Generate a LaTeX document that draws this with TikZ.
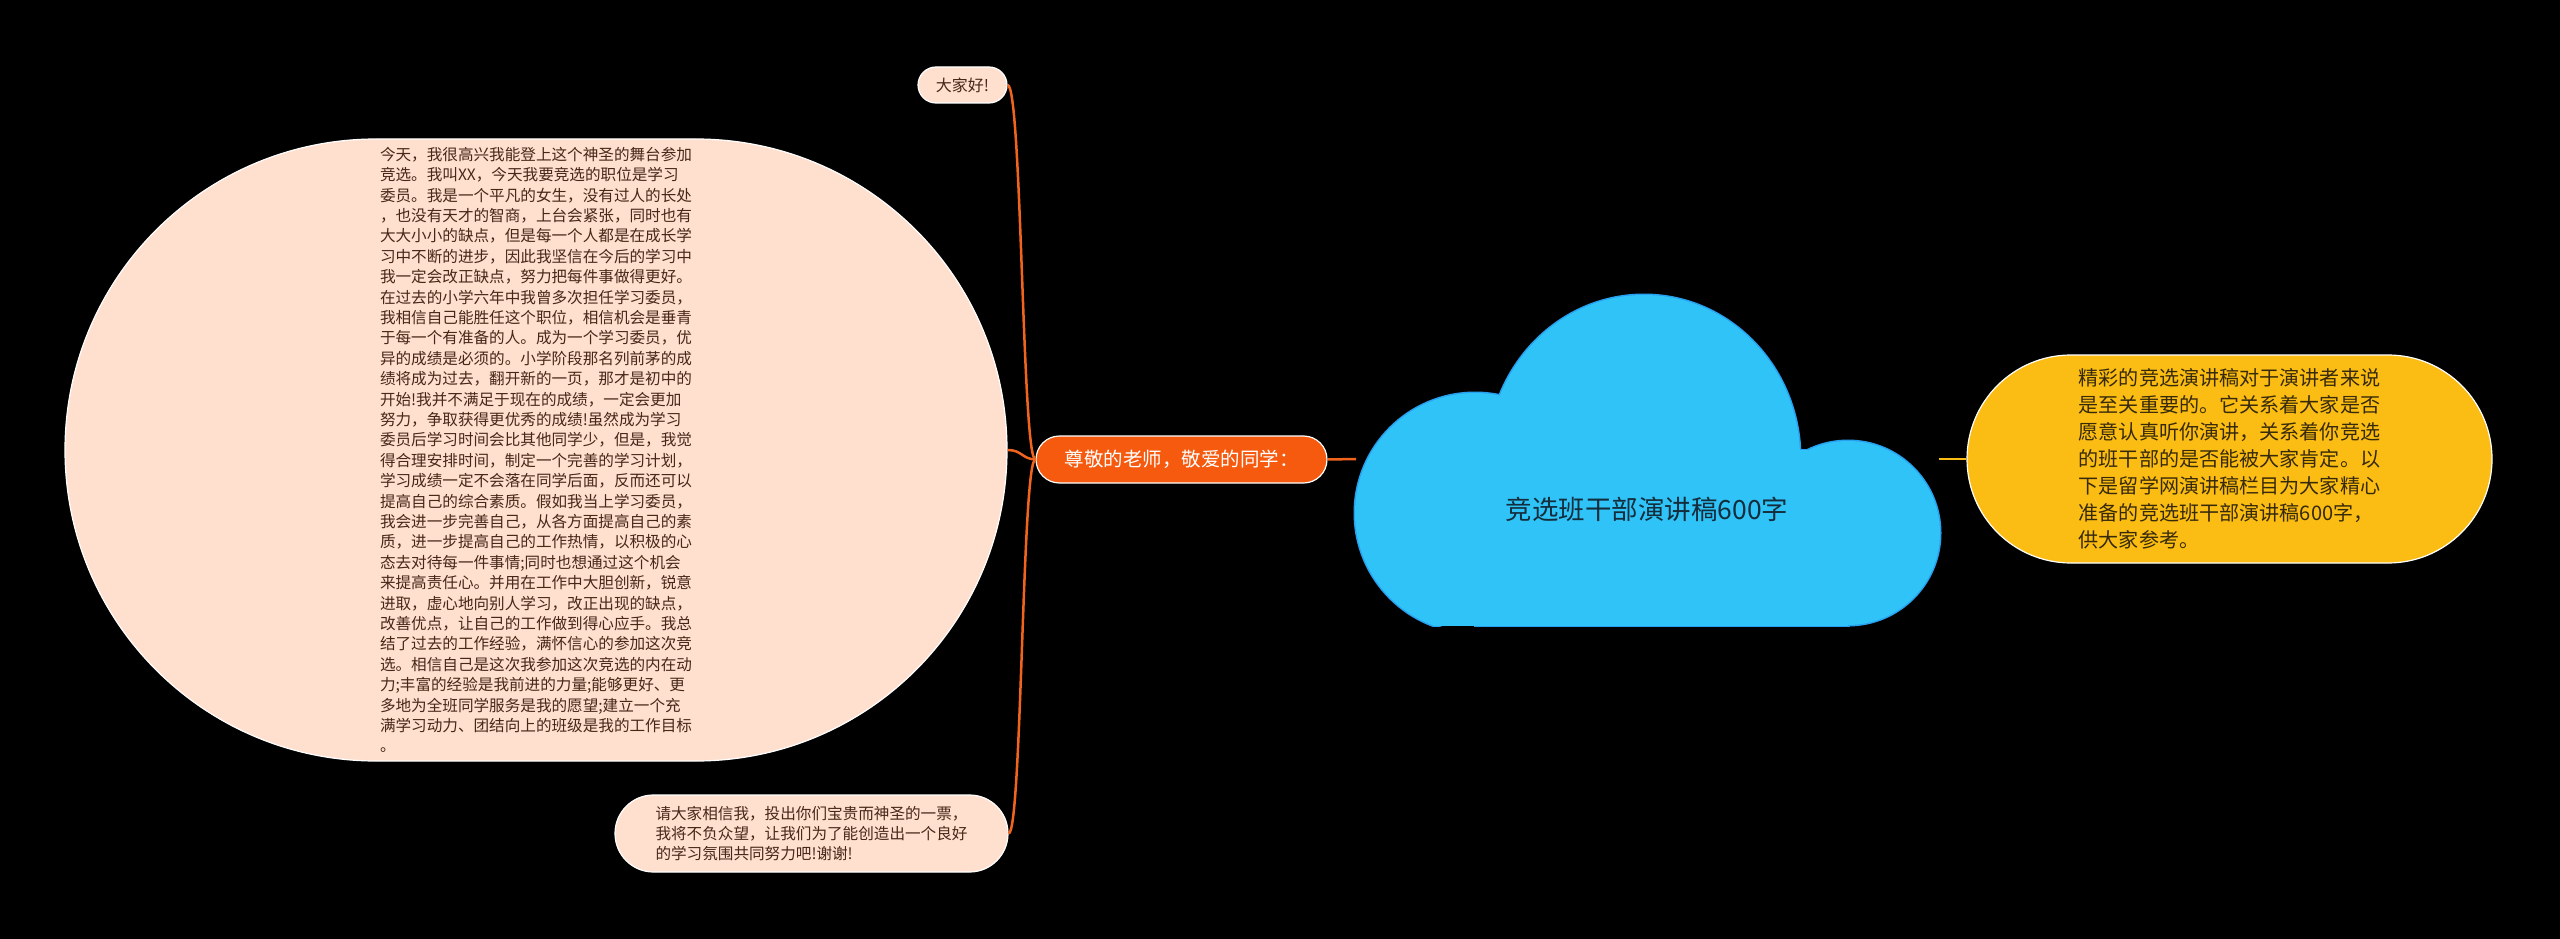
\documentclass[tikz,border=0pt]{standalone}
\usepackage{fontspec}
\setmainfont{Noto Sans CJK SC}
\definecolor{peachc}{RGB}{255,223,206}
\definecolor{brownc}{RGB}{70,40,25}
\definecolor{orangec}{RGB}{245,90,15}
\definecolor{linkc}{RGB}{240,100,30}
\definecolor{yellowc}{RGB}{251,189,20}
\definecolor{yeltext}{RGB}{55,42,10}
\definecolor{cloudc}{RGB}{47,195,247}
\definecolor{cloudedge}{RGB}{40,160,240}
\definecolor{cloudtext}{RGB}{20,45,60}
\tikzset{
  box/.style={draw=white, line width=1.2pt, inner sep=0pt, align=left},
  peachbox/.style={box, fill=peachc, text=brownc},
  link/.style={draw=linkc, line width=2.5pt},
  ylink/.style={draw=yellowc, line width=2.5pt},
}
\begin{document}
\begin{tikzpicture}[x=1pt,y=-1pt]
\useasboundingbox (0,0) rectangle (2560,939);
\fill[black] (0,0) rectangle (2560,939);

% cloud shape: outline pass, then fill pass
\begin{scope}
\clip (0,0) rectangle (2560,626.5);
\begin{scope}[draw=cloudedge, line width=3pt]
\draw (1475,513) circle (120);
\draw (1644,458) ellipse (156 and 163);
\draw (1848,533) circle (92);
\draw (1475,450) rectangle (1848,625);
\end{scope}
\end{scope}
\begin{scope}
\clip (0,0) rectangle (2560,625);
\fill[cloudc] (1475,513) circle (120);
\fill[cloudc] (1644,458) ellipse (156 and 163);
\fill[cloudc] (1848,533) circle (92);
\fill[cloudc] (1475,450) rectangle (1848,626);
\end{scope}
\node[text=cloudtext, font=\fontsize{26.5pt}{30pt}\selectfont, inner sep=0pt] (root) at (1647,509) {竞选班干部演讲稿600字};
\coordinate (cl) at (1356,459);
\coordinate (cr) at (1939,459);

% orange node
\node[box, fill=orangec, text=white, minimum width=291pt, minimum height=47pt, rounded corners=23.5pt,
  font=\fontsize{19.5pt}{23pt}\selectfont] (greet) at (1181.5,459.5) {尊敬的老师，敬爱的同学：};

% yellow node
\node[box, fill=yellowc, text=yeltext, minimum width=525pt, minimum height=208pt, rounded corners=104pt,
  font=\fontsize{20.1pt}{27pt}\selectfont] (intro) at (2229.5,459) {精彩的竞选演讲稿对于演讲者来说\\是至关重要的。它关系着大家是否\\愿意认真听你演讲，关系着你竞选\\的班干部的是否能被大家肯定。以\\下是留学网演讲稿栏目为大家精心\\准备的竞选班干部演讲稿600字，\\供大家参考。};

% hello node
\node[peachbox, minimum width=89pt, minimum height=36pt, rounded corners=18pt,
  font=\fontsize{16pt}{19pt}\selectfont] (hello) at (962.5,85) {大家好!};

% big body node
\node[peachbox, minimum width=942pt, minimum height=622pt, rounded corners=311pt,
  font=\fontsize{15.6pt}{20.4pt}\selectfont] (body) at (536,450) {今天，我很高兴我能登上这个神圣的舞台参加\\竞选。我叫XX，今天我要竞选的职位是学习\\委员。我是一个平凡的女生，没有过人的长处\\，也没有天才的智商，上台会紧张，同时也有\\大大小小的缺点，但是每一个人都是在成长学\\习中不断的进步，因此我坚信在今后的学习中\\我一定会改正缺点，努力把每件事做得更好。\\在过去的小学六年中我曾多次担任学习委员，\\我相信自己能胜任这个职位，相信机会是垂青\\于每一个有准备的人。成为一个学习委员，优\\异的成绩是必须的。小学阶段那名列前茅的成\\绩将成为过去，翻开新的一页，那才是初中的\\开始!我并不满足于现在的成绩，一定会更加\\努力，争取获得更优秀的成绩!虽然成为学习\\委员后学习时间会比其他同学少，但是，我觉\\得合理安排时间，制定一个完善的学习计划，\\学习成绩一定不会落在同学后面，反而还可以\\提高自己的综合素质。假如我当上学习委员，\\我会进一步完善自己，从各方面提高自己的素\\质，进一步提高自己的工作热情，以积极的心\\态去对待每一件事情;同时也想通过这个机会\\来提高责任心。并用在工作中大胆创新，锐意\\进取，虚心地向别人学习，改正出现的缺点，\\改善优点，让自己的工作做到得心应手。我总\\结了过去的工作经验，满怀信心的参加这次竞\\选。相信自己是这次我参加这次竞选的内在动\\力;丰富的经验是我前进的力量;能够更好、更\\多地为全班同学服务是我的愿望;建立一个充\\满学习动力、团结向上的班级是我的工作目标\\。};

% vote node
\node[peachbox, minimum width=393pt, minimum height=77pt, rounded corners=38.5pt,
  font=\fontsize{15.6pt}{20.4pt}\selectfont] (vote) at (811.5,833.5) {请大家相信我，投出你们宝贵而神圣的一票，\\我将不负众望，让我们为了能创造出一个良好\\的学习氛围共同努力吧!谢谢!};

% connectors
\draw[link] (greet.east) -- (cl);
\draw[ylink] (cr) -- (intro.west);
\draw[link] (greet.west) .. controls (1022,459) and (1022,85) .. (hello.east);
\draw[link] (greet.west) .. controls (1022,459) and (1022,450) .. (body.east);
\draw[link] (greet.west) .. controls (1022,459) and (1022,833.5) .. (vote.east);
\end{tikzpicture}
\end{document}
